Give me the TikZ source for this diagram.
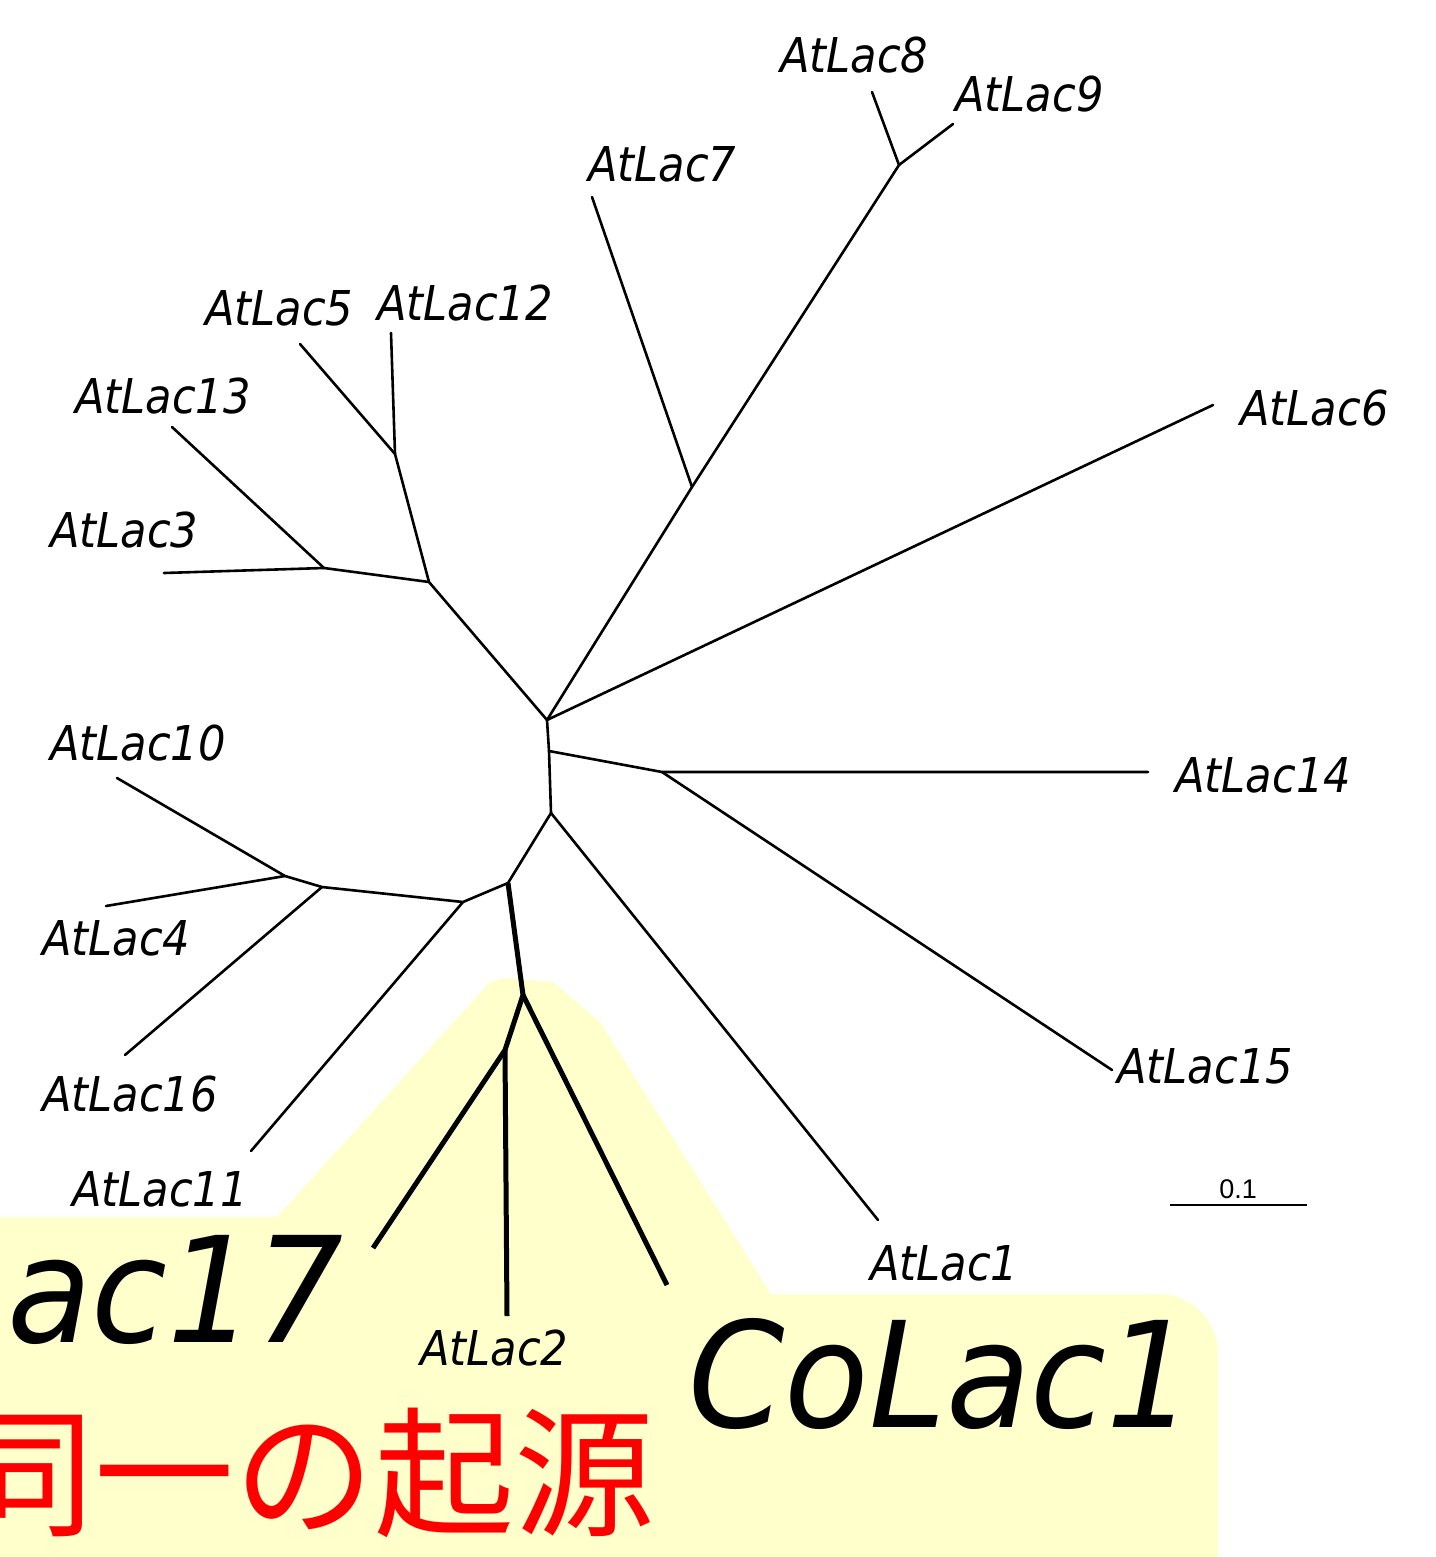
\documentclass[tikz,border=0pt]{standalone}
\usepackage{fontspec}
\newfontfamily\labfont{DejaVu Sans}[FakeStretch=0.9]
\newfontfamily\biglabfont{DejaVu Sans}[FakeStretch=0.94]
\newfontfamily\cjkfont{Noto Sans CJK JP}
\newfontfamily\barfont{Liberation Sans}
\definecolor{hlyellow}{RGB}{255,255,204}
\definecolor{hlred}{RGB}{255,0,0}
\begin{document}
\begin{tikzpicture}[x=1pt,y=-1pt,
  branch/.style={line width=2.6pt, line cap=round, line join=round},
  thickbranch/.style={line width=5pt, line cap=butt, line join=round},
  lab/.style={inner sep=0pt, anchor=base west, font=\labfont\itshape\fontsize{48}{50}\selectfont},
  biglab/.style={inner sep=0pt, font=\biglabfont\itshape\fontsize{147}{150}\selectfont},
  redlab/.style={inner sep=0pt, anchor=base east, text=hlred, font=\cjkfont\fontsize{140}{140}\selectfont}]
\useasboundingbox (0,0) rectangle (1435,1557);
\clip (0,0) rectangle (1435,1557);
\fill[white] (0,0) rectangle (1435,1557);
% highlight
\fill[hlyellow] (0,1217) -- (277,1217) -- (490,982) -- (507,978) -- (553,982) -- (600,1022) -- (771,1294)
  [rounded corners=60pt] -- (1218,1294) [sharp corners] -- (1218,1557) -- (0,1557) -- cycle;
% internal nodes
\coordinate (A) at (547,720);
\coordinate (B) at (692,487);
\coordinate (C) at (899,165);
\coordinate (D) at (429,582);
\coordinate (E) at (395,454);
\coordinate (F) at (324,568);
\coordinate (G) at (549,751);
\coordinate (H) at (662,772);
\coordinate (I) at (551,813);
\coordinate (J) at (508,883);
\coordinate (K) at (463,902);
\coordinate (L) at (322,887);
\coordinate (M) at (285,876);
\coordinate (N) at (523,995);
\coordinate (O) at (505,1050);
% leaf ends
\coordinate (e8) at (872,92);
\coordinate (e9) at (953,124);
\coordinate (e7) at (592,197);
\coordinate (e6) at (1213,405);
\coordinate (e5) at (300,344);
\coordinate (e12) at (391,333);
\coordinate (e13) at (172,427);
\coordinate (e3) at (164,573);
\coordinate (e10) at (117,778);
\coordinate (e4) at (106,906);
\coordinate (e16) at (125,1055);
\coordinate (e11) at (251,1151);
\coordinate (e14) at (1148,772);
\coordinate (e15) at (1112,1070);
\coordinate (e1) at (878,1220);
\coordinate (e17) at (373,1248);
\coordinate (e2) at (507,1316);
\coordinate (eC) at (667,1285);
% branches
\draw[branch] (A) -- (B) -- (C) -- (e8);
\draw[branch] (C) -- (e9);
\draw[branch] (B) -- (e7);
\draw[branch] (A) -- (e6);
\draw[branch] (A) -- (D) -- (E) -- (e5);
\draw[branch] (E) -- (e12);
\draw[branch] (D) -- (F) -- (e13);
\draw[branch] (F) -- (e3);
\draw[branch] (A) -- (G) -- (I) -- (J) -- (K) -- (L) -- (M) -- (e10);
\draw[branch] (M) -- (e4);
\draw[branch] (L) -- (e16);
\draw[branch] (K) -- (e11);
\draw[branch] (G) -- (H) -- (e14);
\draw[branch] (H) -- (e15);
\draw[branch] (I) -- (e1);
\draw[thickbranch] (J) -- (N) -- (O) -- (e17);
\draw[thickbranch] (O) -- (e2);
\draw[thickbranch] (N) -- (eC);
% labels
\node[lab] (l8) at (780,73) {AtLac8};
\node[lab] (l9) at (955,112) {AtLac9};
\node[lab] (l7) at (588,182) {AtLac7};
\node[lab] (l6) at (1240,425) {AtLac6};
\node[lab] (l5) at (205,325) {AtLac5};
\node[lab] (l12) at (377,320) {AtLac12};
\node[lab] (l13) at (75,413) {AtLac13};
\node[lab] (l3) at (50,547) {AtLac3};
\node[lab] (l10) at (50,760) {AtLac10};
\node[lab] (l4) at (42,955) {AtLac4};
\node[lab] (l16) at (42,1111) {AtLac16};
\node[lab] (l11) at (72,1206) {AtLac11};
\node[lab] (l14) at (1175,792) {AtLac14};
\node[lab] (l15) at (1117,1083) {AtLac15};
\node[lab] (l1) at (870,1280) {AtLac1};
\node[lab] (l2) at (420,1365) {AtLac2};
\node[biglab, anchor=base east] (l17) at (344,1342) {AtLac17};
\node[biglab, anchor=base west] (lC) at (688,1427) {CoLac1};
\node[redlab] (orig) at (655,1525) {同一の起源};
% scale bar
\coordinate (s1) at (1170,1205);
\coordinate (s2) at (1307,1205);
\draw[line width=2.8pt] (s1) -- (s2);
\node[inner sep=0pt, anchor=base, font=\barfont\fontsize{27}{28}\selectfont] (sc) at (1238,1198) {0.1};
\end{tikzpicture}
\end{document}
